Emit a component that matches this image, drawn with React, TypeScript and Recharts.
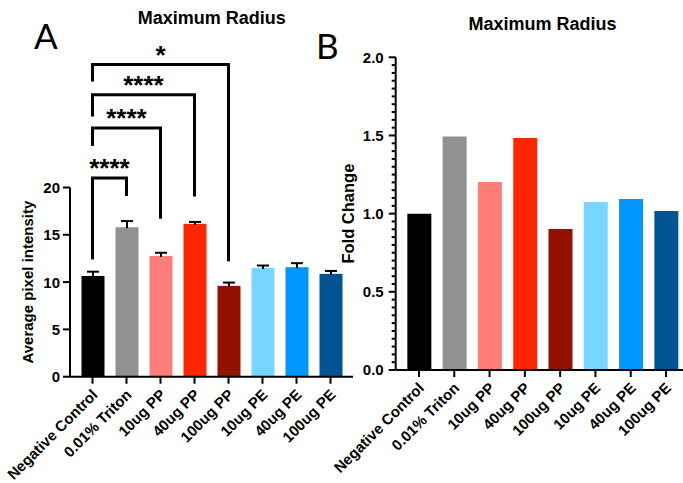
import React from 'react';
import { BarChart, Bar, XAxis, YAxis, Cell, ReferenceLine } from 'recharts';

const CATEGORIES = [
  'Negative Control', '0.01% Triton', '10ug PP', '40ug PP',
  '100ug PP', '10ug PE', '40ug PE', '100ug PE',
];
const COLORS = ['#000000', '#919191', '#FF7E79', '#FF2600', '#941100', '#76D6FF', '#0096FF', '#005493'];

// panel A: mean + SEM
const INTENSITY = [10.65, 15.8, 12.77, 16.16, 9.6, 11.5, 11.58, 10.87];
const INTENSITY_SEM = [0.45, 0.65, 0.33, 0.2, 0.35, 0.25, 0.42, 0.31];
// panel B
const FOLD_CHANGE = [1.0, 1.493, 1.203, 1.484, 0.902, 1.075, 1.094, 1.017];

const TICKS_A = [0, 5, 10, 15, 20];
const TICKS_B = Array.from({ length: 41 }, (_, i) => i * 0.05);

// significance brackets, all vs Negative Control
const SIG_TARGETS = ['0.01% Triton', '10ug PP', '40ug PP', '100ug PP'];
const SIG_STARS = ['****', '****', '****', '*'];
const SIG_TOP = [21.0, 26.3, 29.8, 33.0];
const SIG_LEFT_END = [12.4, 24.4, 27.5, 31.2];
const SIG_RIGHT_END = [19.1, 16.7, 19.05, 12.2];

const dataA = CATEGORIES.map((name, i) => ({ name, value: INTENSITY[i], sem: INTENSITY_SEM[i] }));
const dataB = CATEGORIES.map((name, i) => ({ name, value: FOLD_CHANGE[i] }));

const FONT = '"Liberation Sans", Arial, sans-serif';

const BarWithSem = (props: any) => {
  const { x, y, width, height, fill, payload } = props;
  const perUnit = height / payload.value;
  const cx = x + width / 2;
  const top = y - payload.sem * perUnit;
  return (
    <g>
      <rect x={x} y={y} width={width} height={height} fill={fill} />
      <line x1={cx} x2={cx} y1={y + 1} y2={top} stroke="#000" strokeWidth={2} />
      <line x1={cx - 6} x2={cx + 6} y1={top} y2={top} stroke="#000" strokeWidth={2} />
    </g>
  );
};

const YTick = ({ x, y, payload, labelGap, fmt }: any) => {
  const v = payload.value;
  const major = Math.abs(v * 2 - Math.round(v * 2)) < 1e-6 || fmt === undefined;
  return (
    <g>
      <line x1={x} x2={x - (major ? 7 : 4)} y1={y} y2={y} stroke="#000" strokeWidth={2} />
      {major && (
        <text x={x - labelGap} y={y} dy="0.36em" textAnchor="end" fontFamily={FONT}
          fontWeight={700} fontSize={15} fill="#000">
          {fmt ? fmt(v) : v}
        </text>
      )}
    </g>
  );
};

const XTick = ({ x, y, payload }: any) => (
  <g transform={`translate(${x},${y})`}>
    <line x1={0} x2={0} y1={0} y2={7} stroke="#000" strokeWidth={2} />
    <text x={6} y={19} textAnchor="end" transform="rotate(-45, 6, 19)" fontFamily={FONT}
      fontWeight={700} fontSize={15} fill="#000">
      {payload.value}
    </text>
  </g>
);

const titleStyle: React.CSSProperties = {
  position: 'absolute', transform: 'translate(-50%, -50%)', fontFamily: FONT,
  fontWeight: 700, fontSize: 18, lineHeight: 1, whiteSpace: 'nowrap', color: '#000',
};
const letterStyle: React.CSSProperties = {
  position: 'absolute', fontFamily: 'Lato, "Open Sans", sans-serif', fontSize: 35,
  lineHeight: 1, color: '#000',
};

export default function App() {
  return (
    <div style={{ position: 'absolute', left: 0, top: 0, width: 683, height: 483, overflow: 'hidden', background: '#fff' }}>
      <div style={{ position: 'absolute', left: 0, top: 0 }}>
        <BarChart width={360} height={483} data={dataA} barSize={23}
          margin={{ top: 187.5, right: 7, bottom: 0, left: 0 }}>
          <XAxis dataKey="name" height={106.3} padding={{ left: 5.5, right: 5.5 }} interval={0}
            axisLine={{ stroke: '#000', strokeWidth: 2 }} tickLine={false} tickSize={0} tickMargin={0}
            tick={<XTick />} />
          <YAxis width={70} domain={[0, 20]} ticks={TICKS_A} interval={0}
            axisLine={{ stroke: '#000', strokeWidth: 2 }} tickLine={false} tickSize={0} tickMargin={0}
            tick={<YTick labelGap={10} />}
            label={{ value: 'Average pixel intensity', angle: -90, position: 'insideLeft', offset: 28,
              style: { textAnchor: 'middle', fontFamily: FONT, fontWeight: 700, fontSize: 15, fill: '#000' } }} />
          <Bar dataKey="value" isAnimationActive={false} shape={<BarWithSem />}>
            {dataA.map((d, i) => <Cell key={i} fill={COLORS[i]} />)}
          </Bar>
          {SIG_TARGETS.map((t, i) => (
            <ReferenceLine key={`l${i}`} ifOverflow="visible" stroke="#000" strokeWidth={3}
              segment={[{ x: CATEGORIES[0], y: SIG_LEFT_END[i] }, { x: CATEGORIES[0], y: SIG_TOP[i] }]} />
          ))}
          {SIG_TARGETS.map((t, i) => (
            <ReferenceLine key={`r${i}`} ifOverflow="visible" stroke="#000" strokeWidth={3}
              segment={[{ x: t, y: SIG_RIGHT_END[i] }, { x: t, y: SIG_TOP[i] }]} />
          ))}
          {SIG_TARGETS.map((t, i) => (
            <ReferenceLine key={`t${i}`} ifOverflow="visible" stroke="#000" strokeWidth={3}
              strokeLinecap="square"
              segment={[{ x: CATEGORIES[0], y: SIG_TOP[i] }, { x: t, y: SIG_TOP[i] }]}
              label={{ value: SIG_STARS[i], position: 'top', offset: 1, fontFamily: FONT,
                fontWeight: 700, fontSize: 26, fill: '#000' }} />
          ))}
        </BarChart>
      </div>
      <div style={{ position: 'absolute', left: 330, top: 0 }}>
        <BarChart width={362} height={483} data={dataB} barSize={24}
          margin={{ top: 57.3, right: 2.7, bottom: 0, left: 0 }}>
          <XAxis dataKey="name" height={113} padding={{ left: 5.65, right: 5.65 }} interval={0}
            axisLine={{ stroke: '#000', strokeWidth: 2 }} tickLine={false} tickSize={0} tickMargin={0}
            tick={<XTick />} />
          <YAxis width={65.7} domain={[0, 2]} ticks={TICKS_B} interval={0}
            axisLine={{ stroke: '#000', strokeWidth: 2 }} tickLine={false} tickSize={0} tickMargin={0}
            tick={<YTick labelGap={12} fmt={(v: number) => v.toFixed(1)} />}
            label={{ value: 'Fold Change', angle: -90, position: 'insideLeft', offset: 18,
              style: { textAnchor: 'middle', fontFamily: FONT, fontWeight: 700, fontSize: 16.5, fill: '#000' } }} />
          <Bar dataKey="value" isAnimationActive={false}>
            {dataB.map((d, i) => <Cell key={i} fill={COLORS[i]} />)}
          </Bar>
        </BarChart>
      </div>
      <div style={{ ...titleStyle, left: 211.7, top: 18.3 }}>Maximum Radius</div>
      <div style={{ ...titleStyle, left: 542.5, top: 24 }}>Maximum Radius</div>
      <div style={{ ...letterStyle, left: 34, top: 18 }}>A</div>
      <div style={{ ...letterStyle, left: 316, top: 28 }}>B</div>
    </div>
  );
}
